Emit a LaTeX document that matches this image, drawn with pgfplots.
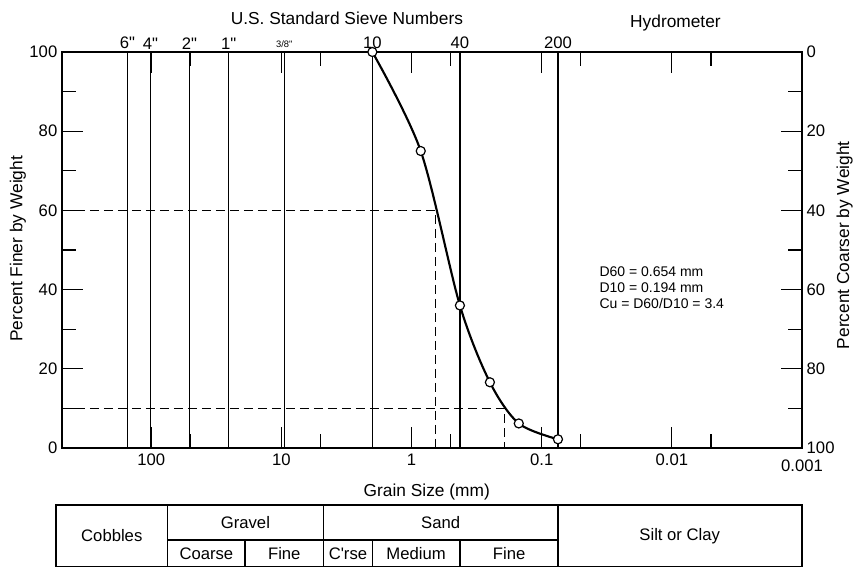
\documentclass[border=0pt]{standalone}
\usepackage{fontspec}
\setmainfont{Liberation Sans}
\newfontfamily\qfont{Liberation Sans}
\usepackage{pgfplots}
\pgfplotsset{compat=1.18}
\newcommand{\fs}{\fontsize{12.5}{15}\selectfont}
\newcommand{\fl}{\fontsize{13}{15}\selectfont}
\begin{document}
\begin{tikzpicture}
\path[use as bounding box] (-46.5pt,-97.5pt) rectangle (593.25pt,336pt);
\begin{axis}[
  at={(0pt,0pt)}, anchor=south west,
  scale only axis, width=555pt, height=297pt,
  xmode=log, x dir=reverse, xmin=0.001, xmax=485,
  ymin=0, ymax=100,
  xtick={0.01,0.1,1,10,100},
  xticklabels={0.01,0.1,1,10,100},
  extra x ticks={0.001},
  extra x tick labels={0.001},
  extra x tick style={xticklabel style={yshift=-4pt}},
  minor xtick={0.005,0.05,0.5,5,50},
  ytick={0,20,40,60,80,100},
  minor ytick={10,30,50,70,90},
  ytick pos=left,
  tick align=inside,
  major tick length=16pt, minor tick length=10.5pt,
  axis line style={line width=1.2pt},
  every tick/.style={line width=0.9pt, black},
  /pgf/number format/assume math mode=true,
  tick label style={font=\fs},
  xticklabel style={yshift=-1pt},
  clip=false,
]
% sieve lines
\addplot[black, line width=1.1pt] coordinates {(152.4,0) (152.4,100)};
\addplot[black, line width=1.1pt] coordinates {(101.6,0) (101.6,100)};
\addplot[black, line width=1.1pt] coordinates {(50.8,0) (50.8,100)};
\addplot[black, line width=1.1pt] coordinates {(25.4,0) (25.4,100)};
\addplot[black, line width=1.1pt] coordinates {(9.5,0) (9.5,100)};
\addplot[black, line width=1.1pt] coordinates {(2.0,0) (2.0,100)};
\addplot[black, line width=1.1pt] coordinates {(0.425,0) (0.425,100)};
\addplot[black, line width=1.1pt] coordinates {(0.075,0) (0.075,100)};
% D60 and D10 construction
\addplot[black, line width=1.1pt, dash pattern=on 7pt off 3.5pt] coordinates {(485,60) (0.654,60) (0.654,0)};
\addplot[black, line width=1.1pt, dash pattern=on 7pt off 3.5pt] coordinates {(485,10) (0.194,10) (0.194,0)};
% grain size distribution curve
\addplot[black, line width=1.6pt, smooth, tension=0.5, mark=*, mark size=3.4pt,
  mark options={fill=white, draw=black, line width=0.9pt}]
  coordinates {(2.0,100) (0.85,75) (0.425,36) (0.25,16.6) (0.15,6.2) (0.075,2.2)};
% sieve labels
\node[anchor=south, font=\fs\qfont, inner sep=2pt] at (axis cs:152.4,100) {6"};
\node[anchor=south, font=\fs\qfont, inner sep=2pt] at (axis cs:101.6,100) {4"};
\node[anchor=south, font=\fs\qfont, inner sep=2pt] at (axis cs:50.8,100) {2"};
\node[anchor=south, font=\fs\qfont, inner sep=2pt] at (axis cs:25.4,100) {1"};
\node[anchor=south, font=\fontsize{7}{8}\selectfont\qfont, inner sep=3pt] at (axis cs:9.5,100) {3/8"};
\node[anchor=south, font=\fs, inner sep=2pt] at (axis cs:2.0,100) {10};
\node[anchor=south, font=\fs, inner sep=2pt] at (axis cs:0.425,100) {40};
\node[anchor=south, font=\fs, inner sep=2pt] at (axis cs:0.075,100) {200};
\node[font=\fl] at (rel axis cs:0.385,1.086) {U.S. Standard Sieve Numbers};
\node[font=\fl] at (rel axis cs:0.829,1.072) {Hydrometer};
% axis labels
\node[font=\fl] at (rel axis cs:0.493,-0.11) {Grain Size (mm)};
\node[font=\fl, rotate=90] at ([xshift=-33pt]rel axis cs:0,0.503) {Percent Finer by Weight};
\node[font=\fl, rotate=90] at ([xshift=32pt]rel axis cs:1,0.512) {Percent Coarser by Weight};
% annotation
\node[anchor=west, align=left, font=\fontsize{10.5}{12}\selectfont, inner sep=0pt] at (rel axis cs:0.726,0.405)
  {D60 = 0.654 mm\\D10 = 0.194 mm\\Cu = D60/D10 = 3.4};
% classification table
\draw[line width=1pt] (axis cs:540,-14.4) rectangle (axis cs:0.001,-30.0);
\draw[line width=1pt] (axis cs:75,-14.4) -- (axis cs:75,-30.0);
\draw[line width=1pt] (axis cs:4.75,-14.4) -- (axis cs:4.75,-30.0);
\draw[line width=1pt] (axis cs:0.075,-14.4) -- (axis cs:0.075,-30.0);
\draw[line width=1pt] (axis cs:75,-23.2) -- (axis cs:0.075,-23.2);
\draw[line width=1pt] (axis cs:19,-23.2) -- (axis cs:19,-30.0);
\draw[line width=1pt] (axis cs:2.0,-23.2) -- (axis cs:2.0,-30.0);
\draw[line width=1pt] (axis cs:0.425,-23.2) -- (axis cs:0.425,-30.0);
\node[font=\fs] at (axis cs:201,-22.2) {Cobbles};
\node[font=\fs] at (axis cs:18.9,-18.8) {Gravel};
\node[font=\fs] at (axis cs:37.7,-26.6) {Coarse};
\node[font=\fs] at (axis cs:9.5,-26.6) {Fine};
\node[font=\fs] at (axis cs:0.597,-18.8) {Sand};
\node[font=\fs\qfont] at (axis cs:3.08,-26.6) {C'rse};
\node[font=\fs] at (axis cs:0.922,-26.6) {Medium};
\node[font=\fs] at (axis cs:0.178,-26.6) {Fine};
\node[font=\fs] at (axis cs:0.0087,-22.2) {Silt or Clay};
\end{axis}
\begin{axis}[
  at={(0pt,0pt)}, anchor=south west,
  scale only axis, width=555pt, height=297pt,
  xmin=0, xmax=1,
  ymin=0, ymax=100, y dir=reverse,
  axis x line=none, axis y line*=right,
  ytick={0,20,40,60,80,100},
  minor ytick={10,30,50,70,90},
  tick align=inside,
  major tick length=16pt, minor tick length=10.5pt,
  axis line style={line width=1.2pt},
  every tick/.style={line width=0.9pt, black},
  /pgf/number format/assume math mode=true,
  tick label style={font=\fs},
]
\addplot[draw=none] coordinates {(0.5,50)};
\end{axis}
\end{tikzpicture}
\end{document}
